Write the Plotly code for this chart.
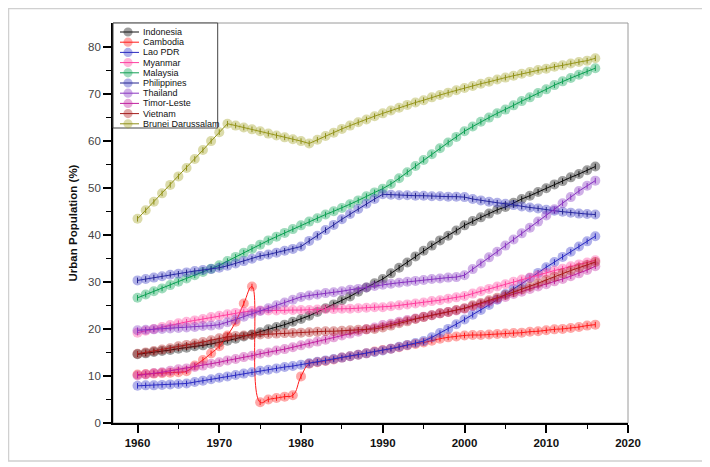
import plotly.graph_objects as go

years = list(range(1960, 2017))

indonesia = [14.6, 14.8, 15.1, 15.3, 15.5, 15.8, 16.0, 16.3, 16.5, 16.8,
             17.1, 17.5, 17.9, 18.4, 18.8, 19.3, 19.9, 20.4, 20.9, 21.5,
             22.1, 22.8, 23.6, 24.4, 25.2, 26.1, 26.9, 27.9, 28.8, 29.7,
             30.6, 31.8, 33.0, 34.1, 35.4, 36.6, 37.7, 38.8, 39.8, 40.9,
             42.0, 42.9, 43.7, 44.5, 45.3, 45.9, 46.8, 47.6, 48.3, 49.1,
             49.9, 50.7, 51.4, 52.2, 52.9, 53.7, 54.5]
cambodia = [10.3, 10.4, 10.5, 10.6, 10.7, 10.8, 11.0, 12.2, 13.4, 14.8,
            16.3, 18.6, 21.5, 25.4, 29.0, 4.4, 5.0, 5.3, 5.6, 5.9,
            9.9, 12.6, 12.9, 13.2, 13.5, 13.9, 14.2, 14.5, 14.8, 15.2,
            15.5, 15.8, 16.1, 16.5, 16.8, 17.1, 17.5, 17.9, 18.2, 18.4,
            18.6, 18.7, 18.7, 18.8, 18.9, 19.0, 19.1, 19.2, 19.4, 19.5,
            19.7, 19.9, 20.0, 20.2, 20.4, 20.7, 20.9]
lao = [7.9, 8.0, 8.0, 8.1, 8.2, 8.3, 8.4, 8.7, 9.0, 9.3,
       9.6, 9.9, 10.2, 10.5, 10.8, 11.1, 11.3, 11.6, 11.9, 12.1,
       12.4, 12.7, 13.0, 13.3, 13.6, 13.9, 14.2, 14.5, 14.8, 15.1,
       15.4, 15.8, 16.2, 16.6, 17.0, 17.4, 18.2, 19.1, 20.0, 21.0,
       22.0, 23.0, 24.0, 25.1, 26.2, 27.4, 28.5, 29.6, 30.8, 31.9,
       33.1, 34.2, 35.3, 36.4, 37.5, 38.6, 39.7]
myanmar = [19.2, 19.6, 20.0, 20.4, 20.8, 21.2, 21.5, 21.8, 22.1, 22.5,
           22.8, 23.1, 23.4, 23.6, 23.8, 23.9, 23.9, 23.9, 24.0, 24.0,
           24.0, 24.0, 24.1, 24.2, 24.2, 24.3, 24.3, 24.4, 24.5, 24.6,
           24.6, 24.8, 25.0, 25.2, 25.4, 25.6, 25.9, 26.1, 26.4, 26.7,
           27.0, 27.5, 28.0, 28.5, 29.0, 29.5, 30.0, 30.5, 30.9, 31.4,
           31.9, 32.4, 32.8, 33.3, 33.7, 34.1, 34.6]
malaysia = [26.6, 27.3, 28.0, 28.6, 29.3, 30.0, 30.7, 31.4, 32.1, 32.8,
            33.5, 34.4, 35.3, 36.2, 37.0, 37.9, 38.8, 39.6, 40.4, 41.2,
            42.0, 42.8, 43.5, 44.3, 45.0, 45.7, 46.5, 47.3, 48.2, 49.0,
            49.8, 50.8, 52.0, 53.3, 54.6, 55.9, 57.1, 58.4, 59.6, 60.8,
            62.0, 63.0, 64.0, 64.9, 65.8, 66.6, 67.5, 68.4, 69.2, 70.1,
            70.9, 71.8, 72.6, 73.3, 74.0, 74.7, 75.4]
philippines = [30.3, 30.6, 30.9, 31.2, 31.5, 31.7, 32.0, 32.3, 32.5, 32.7,
               33.0, 33.4, 33.9, 34.4, 34.9, 35.5, 35.8, 36.2, 36.6, 37.0,
               37.5, 38.7, 39.8, 41.0, 42.1, 43.3, 44.4, 45.5, 46.6, 47.6,
               48.6, 48.5, 48.4, 48.4, 48.3, 48.3, 48.2, 48.2, 48.1, 48.1,
               48.0, 47.6, 47.3, 47.0, 46.8, 46.6, 46.3, 46.0, 45.8, 45.6,
               45.3, 45.1, 44.9, 44.7, 44.5, 44.4, 44.3]
thailand = [19.7, 19.8, 19.9, 20.0, 20.1, 20.2, 20.3, 20.4, 20.6, 20.7,
            20.9, 21.4, 22.0, 22.6, 23.2, 23.8, 24.4, 25.0, 25.6, 26.2,
            26.8, 27.1, 27.3, 27.6, 27.8, 28.0, 28.3, 28.5, 28.8, 29.1,
            29.4, 29.6, 29.8, 30.0, 30.2, 30.4, 30.6, 30.7, 30.9, 31.0,
            31.4, 32.7, 33.9, 35.2, 36.4, 37.7, 39.0, 40.3, 41.5, 42.8,
            44.1, 45.4, 46.7, 48.0, 49.3, 50.4, 51.5]
timor = [10.1, 10.3, 10.6, 10.8, 11.1, 11.4, 11.6, 11.9, 12.2, 12.6,
         12.9, 13.3, 13.6, 14.0, 14.3, 14.7, 15.0, 15.4, 15.7, 16.1,
         16.5, 16.9, 17.3, 17.7, 18.2, 18.6, 19.0, 19.4, 19.9, 20.3,
         20.8, 21.1, 21.5, 21.9, 22.2, 22.6, 22.9, 23.3, 23.6, 23.9,
         24.3, 24.8, 25.3, 25.8, 26.3, 26.8, 27.4, 27.9, 28.5, 29.0,
         29.5, 30.1, 30.6, 31.2, 31.8, 32.5, 33.3]
vietnam = [14.7, 15.0, 15.3, 15.6, 15.9, 16.3, 16.6, 16.9, 17.2, 17.6,
           18.0, 18.3, 18.5, 18.6, 18.7, 18.8, 18.9, 19.0, 19.1, 19.1,
           19.2, 19.3, 19.4, 19.5, 19.5, 19.6, 19.7, 19.8, 19.9, 20.0,
           20.3, 20.7, 21.2, 21.6, 22.1, 22.5, 22.9, 23.3, 23.6, 24.0,
           24.4, 25.0, 25.5, 26.1, 26.6, 27.2, 27.8, 28.4, 29.0, 29.7,
           30.4, 31.1, 31.8, 32.4, 33.0, 33.6, 34.2]
brunei = [43.4, 45.2, 47.0, 48.8, 50.6, 52.4, 54.2, 56.1, 58.0, 59.9,
          61.8, 63.6, 63.2, 62.8, 62.4, 62.0, 61.5, 61.1, 60.7, 60.3,
          59.9, 59.4, 60.2, 61.0, 61.7, 62.5, 63.2, 63.9, 64.5, 65.2,
          65.8, 66.4, 67.0, 67.6, 68.1, 68.6, 69.2, 69.7, 70.2, 70.7,
          71.2, 71.6, 72.1, 72.5, 73.0, 73.4, 73.8, 74.2, 74.6, 75.0,
          75.3, 75.7, 76.0, 76.4, 76.7, 77.0, 77.5]

names = ["Indonesia", "Cambodia", "Lao PDR", "Myanmar", "Malaysia",
         "Philippines", "Thailand", "Timor-Leste", "Vietnam", "Brunei Darussalam"]
series = [indonesia, cambodia, lao, myanmar, malaysia,
          philippines, thailand, timor, vietnam, brunei]
line_colors = ["#111111", "#ff1a1a", "#2a2ac0", "#ff3f9f", "#12a055",
               "#24248e", "#8a35c0", "#c0209f", "#a31c1c", "#8f8f18"]
marker_colors = ["#000000", "#ff1a1a", "#2f2fc8", "#ff3f9f", "#00a050",
                 "#3030c0", "#8030c0", "#c0209f", "#b01818", "#a0a020"]
MOP = 0.38

W, H = 702, 459
ML, MR, MT, MB = 105, 82, 15, 44
PW, PH = W - ML - MR, H - MT - MB

fig = go.Figure()
for name, vals, lc, mc in zip(names, series, line_colors, marker_colors):
    shape = "spline" if name == "Cambodia" else "linear"
    fig.add_trace(go.Scatter(
        x=years, y=vals, name=name, mode="lines+markers", showlegend=False,
        line=dict(color=lc, width=1, shape=shape, smoothing=1.3),
        marker=dict(color=mc, size=10, opacity=MOP, line=dict(width=0)),
    ))
    fig.add_trace(go.Scatter(
        x=years, y=vals, mode="markers", showlegend=False, hoverinfo="skip",
        marker=dict(symbol="line-ns", size=4, line=dict(color=lc, width=1)),
    ))

# outer figure border and plot frame
fig.add_shape(type="rect", xref="paper", yref="paper",
              x0=(0.5 - ML) / PW, x1=(697.5 - ML) / PW,
              y0=-(453 - (H - MB)) / PH, y1=1 + (MT - 0.5) / PH,
              line=dict(color="#d0d0d0", width=1.5), layer="below")
fig.add_shape(type="rect", xref="paper", yref="paper",
              x0=0, x1=1, y0=0, y1=1,
              line=dict(color="#9a9a9a", width=1), layer="below")

# legend drawn as a box of entries
lx0, lx1, ly1, ly0 = 0.0, 0.2033, 1.0, 0.7375
fig.add_shape(type="rect", xref="paper", yref="paper",
              x0=lx0, x1=lx1, y0=ly0, y1=ly1,
              line=dict(color="#444444", width=1), fillcolor="white", layer="above")
for i, (name, lc, mc) in enumerate(zip(names, line_colors, marker_colors)):
    yc = 1 - (9 + 10.2 * i) / PH
    xc = 15 / PW
    rx, ry = 4.6 / PW, 4.6 / PH
    fig.add_shape(type="circle", xref="paper", yref="paper",
                  x0=xc - rx, x1=xc + rx, y0=yc - ry, y1=yc + ry,
                  fillcolor=mc, opacity=MOP, line=dict(width=0), layer="above")
    fig.add_shape(type="line", xref="paper", yref="paper",
                  x0=7 / PW, x1=26 / PW, y0=yc, y1=yc,
                  line=dict(color=lc, width=1), layer="above")
    fig.add_annotation(xref="paper", yref="paper", x=27.5 / PW, y=yc,
                       xanchor="left", yanchor="middle", showarrow=False,
                       text=name, font=dict(size=9, color="#111"))

fig.update_layout(
    width=W, height=H,
    margin=dict(l=ML, r=MR, t=MT, b=MB),
    paper_bgcolor="white", plot_bgcolor="white",
    font=dict(family="Arial, Liberation Sans, sans-serif", size=11, color="#222"),
    showlegend=False,
    xaxis=dict(range=[1957.0, 2020.0], tickmode="array",
               tickvals=[1960, 1970, 1980, 1990, 2000, 2010, 2020],
               ticktext=["<b>%d</b>" % v for v in [1960, 1970, 1980, 1990, 2000, 2010, 2020]],
               ticks="outside", ticklen=8, tickwidth=1.5, tickcolor="black",
               minor=dict(tickvals=[1965, 1975, 1985, 1995, 2005, 2015],
                          ticks="outside", ticklen=4, tickwidth=1.2, tickcolor="black"),
               showline=True, linecolor="black", linewidth=1.8,
               showgrid=False, zeroline=False,
               tickfont=dict(size=11.5, color="#111")),
    yaxis=dict(range=[0, 85], tickmode="array",
               tickvals=[0, 10, 20, 30, 40, 50, 60, 70, 80],
               ticks="outside", ticklen=8, tickwidth=1.5, tickcolor="black",
               minor=dict(tickvals=[5, 15, 25, 35, 45, 55, 65, 75],
                          ticks="outside", ticklen=5, tickwidth=1.2, tickcolor="black"),
               showline=True, linecolor="black", linewidth=1.8,
               showgrid=False, zeroline=False,
               title=dict(text="<b>Urban Population (%)</b>", standoff=8,
                          font=dict(size=11.5, color="#111")),
               tickfont=dict(size=11.5, color="#444")),
)

fig.write_html("out.html")
